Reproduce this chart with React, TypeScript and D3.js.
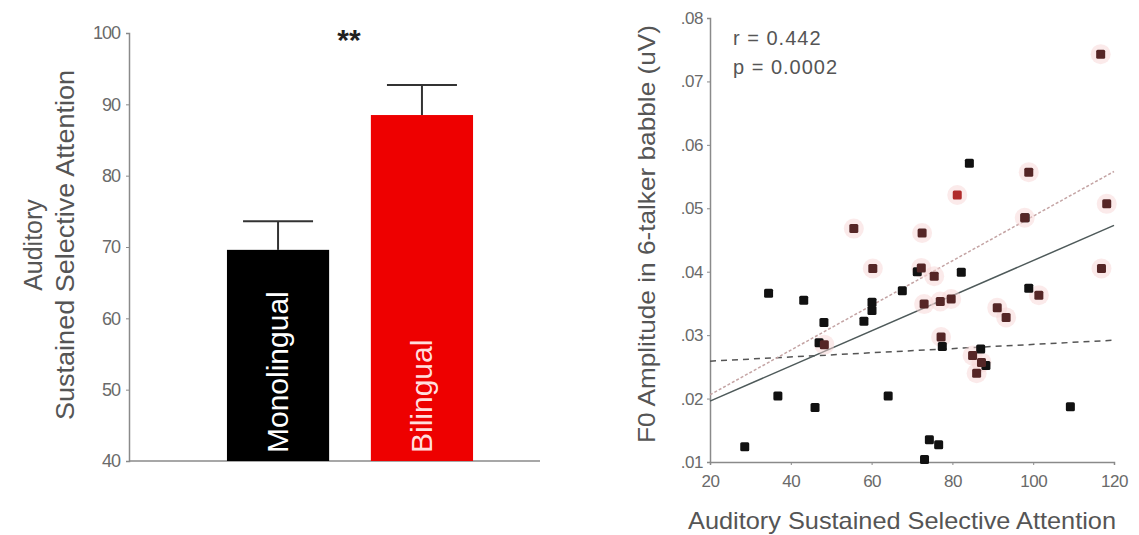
import React, { useEffect, useRef } from "react";
import * as d3 from "d3";

// bar chart
const groups = ["Monolingual", "Bilingual"];
const groupMeans = [69.6, 88.5];
const groupErrors = [4.0, 4.2];
const barTicks = [40, 50, 60, 70, 80, 90, 100];

// scatter: monolingual points (black)
const monoX = [28.6, 34.5, 36.8, 43.2, 46.0, 47.0, 48.2, 58.1, 60.1, 60.1, 64.1, 67.6, 73.1, 74.3, 76.6, 77.5, 82.2, 84.2, 71.3, 87.0, 88.3, 98.0, 98.9, 109.2];
const monoY = [0.0124, 0.0366, 0.0204, 0.0355, 0.0186, 0.0288, 0.0320, 0.0322, 0.0352, 0.0339, 0.0204, 0.0370, 0.0104, 0.0135, 0.0127, 0.0282, 0.0399, 0.0571, 0.0400, 0.0278, 0.0252, 0.0485, 0.0374, 0.0187];
// scatter: bilingual points (red)
const biX = [116.7, 81.2, 55.6, 72.5, 98.9, 97.9, 118.2, 60.3, 72.3, 75.5, 116.9, 101.4, 73.0, 77.0, 79.7, 91.1, 93.3, 77.2, 48.3, 85.0, 87.2, 86.0];
const biY = [0.0743, 0.0521, 0.0468, 0.0461, 0.0557, 0.0485, 0.0507, 0.0405, 0.0406, 0.0393, 0.0405, 0.0363, 0.0349, 0.0353, 0.0357, 0.0343, 0.0328, 0.0297, 0.0285, 0.0268, 0.0257, 0.0240];

// fit lines [x0, y0, x1, y1]
const fitMono = [20, 0.0259, 120, 0.0292];
const fitAll = [20, 0.0196, 120, 0.0473];
const fitBi = [20, 0.0206, 120, 0.0558];

const xTicks = [20, 40, 60, 80, 100, 120];
const yTicks = [0.01, 0.02, 0.03, 0.04, 0.05, 0.06, 0.07, 0.08];

export default function App() {
  const ref = useRef<SVGSVGElement>(null);

  useEffect(() => {
    const svg = d3.select(ref.current);
    svg.selectAll("*").remove();
    const font = "Liberation Sans, Arial, sans-serif";

    // ---------- left: bar chart ----------
    const y = d3.scaleLinear().domain([40, 100]).range([461, 33]);
    const x = d3.scaleBand().domain(groups).range([155, 545]).paddingInner(0.29).paddingOuter(0.5);
    const left = svg.append("g");

    const yAxis = left.append("g")
      .attr("transform", "translate(129,0)")
      .call(d3.axisLeft(y).tickValues(barTicks).tickSize(3).tickPadding(6));
    yAxis.select(".domain").attr("stroke", "#8a8a8a").attr("stroke-width", 1.5);
    yAxis.selectAll(".tick line").attr("stroke", "#8a8a8a");
    yAxis.selectAll(".tick text").attr("font-family", font).attr("font-size", 18).attr("fill", "#6a6a6a").attr("letter-spacing", -1);

    left.append("line")
      .attr("x1", 129).attr("x2", 540).attr("y1", y(40)).attr("y2", y(40))
      .attr("stroke", "#8a8a8a").attr("stroke-width", 1.5);

    const data = groups.map((g, i) => ({ name: g, mean: groupMeans[i], err: groupErrors[i] }));
    const colors = ["#000000", "#ee0000"];

    left.selectAll("line.err").data(data).enter().append("line")
      .attr("class", "err")
      .attr("x1", d => x(d.name)! + x.bandwidth() / 2)
      .attr("x2", d => x(d.name)! + x.bandwidth() / 2)
      .attr("y1", d => y(d.mean)).attr("y2", d => y(d.mean + d.err))
      .attr("stroke", "#333").attr("stroke-width", 2);
    left.selectAll("line.cap").data(data).enter().append("line")
      .attr("class", "cap")
      .attr("x1", d => x(d.name)! + x.bandwidth() / 2 - 35)
      .attr("x2", d => x(d.name)! + x.bandwidth() / 2 + 35)
      .attr("y1", d => y(d.mean + d.err)).attr("y2", d => y(d.mean + d.err))
      .attr("stroke", "#333").attr("stroke-width", 2);

    left.selectAll("rect.bar").data(data).enter().append("rect")
      .attr("class", "bar")
      .attr("x", d => x(d.name)!)
      .attr("y", d => y(d.mean))
      .attr("width", x.bandwidth())
      .attr("height", d => y(40) - y(d.mean))
      .attr("fill", (d, i) => colors[i]);

    left.selectAll("text.barlabel").data(data).enter().append("text")
      .attr("class", "barlabel")
      .attr("transform", d => `translate(${x(d.name)! + x.bandwidth() / 2 + 10},${y(40) - 8}) rotate(-90)`)
      .attr("font-family", font).attr("font-size", 30)
      .attr("fill", (d, i) => (i === 0 ? "#ffffff" : "#ffdede"))
      .text(d => d.name);

    left.append("text")
      .attr("x", 349).attr("y", 50).attr("text-anchor", "middle")
      .attr("font-family", font).attr("font-size", 30).attr("font-weight", "bold").attr("fill", "#222")
      .text("**");

    left.append("text")
      .attr("transform", "translate(42,245) rotate(-90)")
      .attr("text-anchor", "middle").attr("font-family", font).attr("font-size", 25).attr("fill", "#555")
      .text("Auditory");
    left.append("text")
      .attr("transform", "translate(74,245) rotate(-90)")
      .attr("text-anchor", "middle").attr("font-family", font).attr("font-size", 25).attr("fill", "#555")
      .attr("textLength", 350).attr("lengthAdjust", "spacingAndGlyphs")
      .text("Sustained Selective Attention");

    // ---------- right: scatter ----------
    const sx = d3.scaleLinear().domain([20, 120]).range([710, 1114]);
    const sy = d3.scaleLinear().domain([0.01, 0.08]).range([462, 18]);
    const right = svg.append("g");

    const ax = right.append("g")
      .attr("transform", `translate(0,${sy(0.01)})`)
      .call(d3.axisBottom(sx).tickValues(xTicks).tickSize(3).tickPadding(10));
    const ay = right.append("g")
      .attr("transform", `translate(${sx(20)},0)`)
      .call(d3.axisLeft(sy).tickValues(yTicks).tickSize(3).tickPadding(4)
        .tickFormat(d => d3.format(".2f")(d as number).replace(/^0/, "")));
    [ax, ay].forEach(a => {
      a.select(".domain").attr("stroke", "#8a8a8a").attr("stroke-width", 1.5);
      a.selectAll(".tick line").attr("stroke", "#8a8a8a");
      a.selectAll(".tick text").attr("font-family", font).attr("font-size", 17).attr("fill", "#6a6a6a").attr("letter-spacing", -0.5);
    });

    const fitLine = (f: number[], color: string, dash: string, w: number) =>
      right.append("line")
        .attr("x1", sx(f[0])).attr("y1", sy(f[1]))
        .attr("x2", sx(f[2])).attr("y2", sy(f[3]))
        .attr("stroke", color).attr("stroke-width", w).attr("stroke-dasharray", dash);
    fitLine(fitMono, "#555", "6,5", 1.5);
    fitLine(fitBi, "#c4a4a4", "3,2", 1.5);
    fitLine(fitAll, "#4e5a5a", "none", 1.5);

    const bi = biX.map((v, i) => ({ x: v, y: biY[i] }));
    const mono = monoX.map((v, i) => ({ x: v, y: monoY[i] }));

    right.selectAll("circle.halo").data(bi).enter().append("circle")
      .attr("class", "halo")
      .attr("cx", d => sx(d.x)).attr("cy", d => sy(d.y)).attr("r", 10)
      .attr("fill", "#f8d6d6").attr("opacity", 0.5);

    right.selectAll("rect.mono").data(mono).enter().append("rect")
      .attr("class", "mono")
      .attr("x", d => sx(d.x) - 4.5).attr("y", d => sy(d.y) - 4.5)
      .attr("width", 9).attr("height", 9).attr("rx", 1.5)
      .attr("fill", "#111");
    right.selectAll("rect.bi").data(bi).enter().append("rect")
      .attr("class", "bi")
      .attr("x", d => sx(d.x) - 4.5).attr("y", d => sy(d.y) - 4.5)
      .attr("width", 9).attr("height", 9).attr("rx", 1.5)
      .attr("fill", (d, i) => (i === 1 ? "#b02a2a" : "#552626"));

    right.append("text")
      .attr("x", 733).attr("y", 45)
      .attr("font-family", font).attr("font-size", 20).attr("fill", "#555").attr("letter-spacing", 1)
      .text("r = 0.442");
    right.append("text")
      .attr("x", 733).attr("y", 74)
      .attr("font-family", font).attr("font-size", 20).attr("fill", "#555").attr("letter-spacing", 1)
      .text("p = 0.0002");

    right.append("text")
      .attr("x", 902).attr("y", 529).attr("text-anchor", "middle")
      .attr("font-family", font).attr("font-size", 24).attr("fill", "#555")
      .attr("textLength", 428).attr("lengthAdjust", "spacingAndGlyphs")
      .text("Auditory Sustained Selective Attention");
    right.append("text")
      .attr("transform", "translate(655,234) rotate(-90)")
      .attr("text-anchor", "middle").attr("font-family", font).attr("font-size", 24).attr("fill", "#555")
      .attr("textLength", 418).attr("lengthAdjust", "spacingAndGlyphs")
      .text("F0 Amplitude in 6-talker babble (uV)");
  }, []);

  return (
    <svg
      ref={ref}
      width={1139}
      height={535}
      style={{ position: "absolute", left: 0, top: 0, background: "#fff" }}
    />
  );
}
